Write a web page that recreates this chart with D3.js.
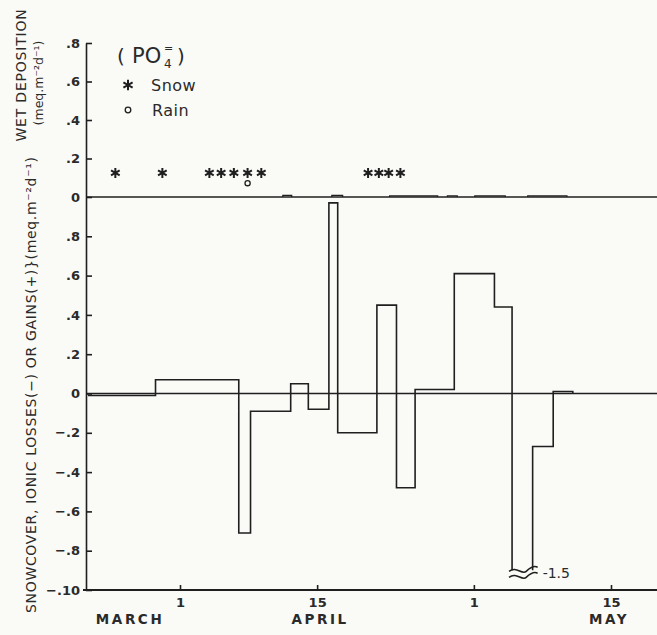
<!DOCTYPE html>
<html>
<head>
<meta charset="utf-8">
<script src="https://cdn.jsdelivr.net/npm/d3@7"></script>
<style>
  body { margin: 0; background: #fafaf7; }
  svg { display: block; font-family: "DejaVu Sans", sans-serif; }
</style>
</head>
<body>
<div id="chart"></div>
<script>
// --- Data (day numbers counted from March 1 = day 0) ---
// snowcover net change, step boundaries and the value held between them
const stepDays = [21.6, 28.5, 37.0, 38.2, 42.3, 44.1, 46.2, 47.1, 51.1, 53.1, 55.0, 59.0, 63.1, 64.9, 67.0, 69.1, 71.1];
const netChange = [-0.01, 0.07, -0.71, -0.09, 0.05, -0.08, 0.97, -0.20, 0.45, -0.48, 0.02, 0.61, 0.44, -1.5, -0.27, 0.01];

// wet deposition (tiny bumps on the upper zero line)
const wetStart = [41.5, 46.5, 52.4, 58.3, 61.1, 66.5];
const wetEnd   = [42.4, 47.6, 57.3, 59.3, 64.2, 70.5];
const wetValue = [0.008, 0.008, 0.006, 0.006, 0.006, 0.006];

// precipitation events
const snowDays = [24.4, 29.2, 34.0, 35.2, 36.5, 37.9, 39.3, 50.2, 51.3, 52.3, 53.5];
const rainDays = [37.9];
const snowLevel = 0.125, rainLevel = 0.072;

// axes
const xTicks = [31, 45, 61, 75];
const xTickLabels = ["1", "15", "1", "15"];
const months = ["MARCH", "APRIL", "MAY"];
const monthDays = [25.9, 45.3, 74.8];

const topTicks = [0, 0.2, 0.4, 0.6, 0.8];
const topTickLabels = ["0", ".2", ".4", ".6", ".8"];
const lowTicks = [0.8, 0.6, 0.4, 0.2, 0, -0.2, -0.4, -0.6, -0.8, -1.0];
const lowTickLabels = [".8", ".6", ".4", ".2", "0", "\u2212.2", "\u2212.4", "\u2212.6", "\u2212.8", "\u2212.10"];

const clipLevel = -0.9;   // values below this are drawn broken

// --- Layout ---
const W = 657, H = 635;
const axisX = 86, rightX = 657;
const ink = "#1f1f1f", textInk = "#2a2a2a";

const x = d3.scaleLinear().domain([31, 75]).range([180, 611]);
const yLow = d3.scaleLinear().domain([-1, 1]).range([590, 197]);
const yTop = d3.scaleLinear().domain([0, 0.8]).range([197, 43]);

const svg = d3.select("#chart").append("svg")
    .attr("width", W).attr("height", H)
    .style("background", "#fafaf7");

// --- Axes ---
const lowAxis = svg.append("g")
    .attr("transform", `translate(${axisX},0)`)
    .call(d3.axisLeft(yLow).tickValues(lowTicks)
        .tickFormat(d => lowTickLabels[lowTicks.indexOf(d)])
        .tickSizeInner(-6).tickSizeOuter(0).tickPadding(6));

const topAxis = svg.append("g")
    .attr("transform", `translate(${axisX},0)`)
    .call(d3.axisLeft(yTop).tickValues(topTicks)
        .tickFormat(d => topTickLabels[topTicks.indexOf(d)])
        .tickSizeInner(-6).tickSizeOuter(0).tickPadding(6));

const xAxis = svg.append("g")
    .attr("transform", `translate(0,${yLow(-1)})`)
    .call(d3.axisBottom(x).tickValues(xTicks)
        .tickFormat(d => xTickLabels[xTicks.indexOf(d)])
        .tickSizeInner(-5).tickSizeOuter(0).tickPadding(8));
xAxis.select(".domain").remove();

[lowAxis, topAxis, xAxis].forEach(g => {
    g.selectAll("path, line").attr("stroke", ink).attr("stroke-width", 1.6);
    g.selectAll("text")
        .attr("fill", textInk)
        .attr("font-family", "DejaVu Sans, sans-serif")
        .attr("font-size", 13)
        .attr("font-weight", "bold");
});

// base lines: bottom axis and the two zero lines
svg.append("line")
    .attr("x1", axisX - 3).attr("x2", rightX)
    .attr("y1", yLow(-1)).attr("y2", yLow(-1))
    .attr("stroke", ink).attr("stroke-width", 1.8);
svg.append("line")
    .attr("x1", axisX).attr("x2", rightX)
    .attr("y1", yLow(0)).attr("y2", yLow(0))
    .attr("stroke", ink).attr("stroke-width", 1.5);
svg.append("line")
    .attr("x1", axisX).attr("x2", rightX)
    .attr("y1", yTop(0)).attr("y2", yTop(0))
    .attr("stroke", ink).attr("stroke-width", 1.5);

// month names
svg.append("g").selectAll("text")
    .data(months)
    .join("text")
    .attr("x", (d, i) => x(monthDays[i]))
    .attr("y", 624)
    .attr("text-anchor", "middle")
    .attr("font-size", 13.5)
    .attr("font-weight", "bold")
    .attr("letter-spacing", 2.6)
    .attr("fill", textInk)
    .text(d => d);

// --- Net change step line ---
const pts = [];
netChange.forEach((v, i) => {
    const a = stepDays[i], b = stepDays[i + 1];
    if (v < clipLevel) {
        pts.push({ d: a, v: clipLevel, on: true });
        pts.push({ d: a, v: clipLevel, on: false });
        pts.push({ d: b, v: clipLevel, on: true });
    } else {
        pts.push({ d: a, v: v, on: true });
        pts.push({ d: b, v: v, on: true });
    }
});
pts.push({ d: stepDays[stepDays.length - 1], v: 0, on: true });

const stepLine = d3.line()
    .defined(p => p.on)
    .x(p => x(p.d))
    .y(p => yLow(p.v));

svg.append("path")
    .datum(pts)
    .attr("d", stepLine)
    .attr("fill", "none")
    .attr("stroke", ink)
    .attr("stroke-width", 1.6);

// break symbol and value for the clipped step
netChange.forEach((v, i) => {
    if (v >= clipLevel) return;
    const x0 = x(stepDays[i]) - 3, x1 = x(stepDays[i + 1]) + 5;
    const yb = yLow(clipLevel);
    const w = x1 - x0;
    [0, 6].forEach(off => {
        const y0 = yb + off;
        svg.append("path")
            .attr("d", `M${x0},${y0 + 1} C${x0 + w * 0.25},${y0 - 5} ${x0 + w * 0.45},${y0 + 5} ${x0 + w * 0.6},${y0 + 1} S${x0 + w * 0.9},${y0 - 5} ${x1},${y0 - 3}`)
            .attr("fill", "none")
            .attr("stroke", ink)
            .attr("stroke-width", 1.5);
    });
    svg.append("text")
        .attr("x", x1 + 5)
        .attr("y", yb + 4)
        .attr("dominant-baseline", "middle")
        .attr("font-size", 14)
        .attr("fill", textInk)
        .text("-1.5");
});

// --- Wet deposition bumps ---
svg.append("g").selectAll("path")
    .data(wetStart)
    .join("path")
    .attr("d", (d, i) => d3.line()([
        [x(d), yTop(0)], [x(d), yTop(wetValue[i])],
        [x(wetEnd[i]), yTop(wetValue[i])], [x(wetEnd[i]), yTop(0)]
    ]))
    .attr("fill", "none")
    .attr("stroke", ink)
    .attr("stroke-width", 1.3);

// --- Precipitation markers ---
const star = d3.symbol(d3.symbolAsterisk, 70);
svg.append("g").selectAll("path")
    .data(snowDays)
    .join("path")
    .attr("transform", d => `translate(${x(d)},${yTop(snowLevel)})`)
    .attr("d", star)
    .attr("fill", "none")
    .attr("stroke", ink)
    .attr("stroke-width", 2);

svg.append("g").selectAll("circle")
    .data(rainDays)
    .join("circle")
    .attr("cx", d => x(d))
    .attr("cy", yTop(rainLevel))
    .attr("r", 2.6)
    .attr("fill", "none")
    .attr("stroke", ink)
    .attr("stroke-width", 1.3);

// --- Legend ---
const leg = svg.append("g");
leg.append("text")
    .attr("x", 117).attr("y", 63)
    .attr("font-size", 20).attr("fill", textInk).text("(");
leg.append("text")
    .attr("x", 132).attr("y", 63)
    .attr("font-size", 21).attr("fill", textInk).text("PO");
leg.append("text")
    .attr("x", 164).attr("y", 68)
    .attr("font-size", 12).attr("fill", textInk).text("4");
leg.append("text")
    .attr("x", 164).attr("y", 52)
    .attr("font-size", 11).attr("fill", textInk).text("=");
leg.append("text")
    .attr("x", 177).attr("y", 63)
    .attr("font-size", 20).attr("fill", textInk).text(")");

leg.append("path")
    .attr("transform", "translate(128,85)")
    .attr("d", d3.symbol(d3.symbolAsterisk, 80)())
    .attr("fill", "none").attr("stroke", ink).attr("stroke-width", 2);
leg.append("text")
    .attr("x", 151).attr("y", 91)
    .attr("font-size", 16).attr("letter-spacing", 0.5).attr("fill", textInk).text("Snow");
leg.append("circle")
    .attr("cx", 128).attr("cy", 110).attr("r", 2.8)
    .attr("fill", "none").attr("stroke", ink).attr("stroke-width", 1.3);
leg.append("text")
    .attr("x", 152).attr("y", 116)
    .attr("font-size", 16).attr("letter-spacing", 0.5).attr("fill", textInk).text("Rain");

// --- Y axis titles ---
svg.append("text")
    .attr("transform", "translate(31,613) rotate(-90)")
    .attr("dominant-baseline", "central")
    .attr("font-size", 14)
    .attr("fill", textInk)
    .attr("textLength", 456)
    .attr("lengthAdjust", "spacing")
    .text("SNOWCOVER, IONIC LOSSES(\u2212) OR GAINS(+)}(meq.m\u207B\u00B2d\u207B\u00B9)");

svg.append("text")
    .attr("transform", "translate(21,75) rotate(-90)")
    .attr("text-anchor", "middle")
    .attr("dominant-baseline", "central")
    .attr("font-size", 14)
    .attr("letter-spacing", 0.8)
    .attr("fill", textInk)
    .text("WET DEPOSITION");

svg.append("text")
    .attr("transform", "translate(38,83) rotate(-90)")
    .attr("text-anchor", "middle")
    .attr("dominant-baseline", "central")
    .attr("font-size", 12.5)
    .attr("fill", textInk)
    .text("(meq.m\u207B\u00B2d\u207B\u00B9)");
</script>
</body>
</html>
